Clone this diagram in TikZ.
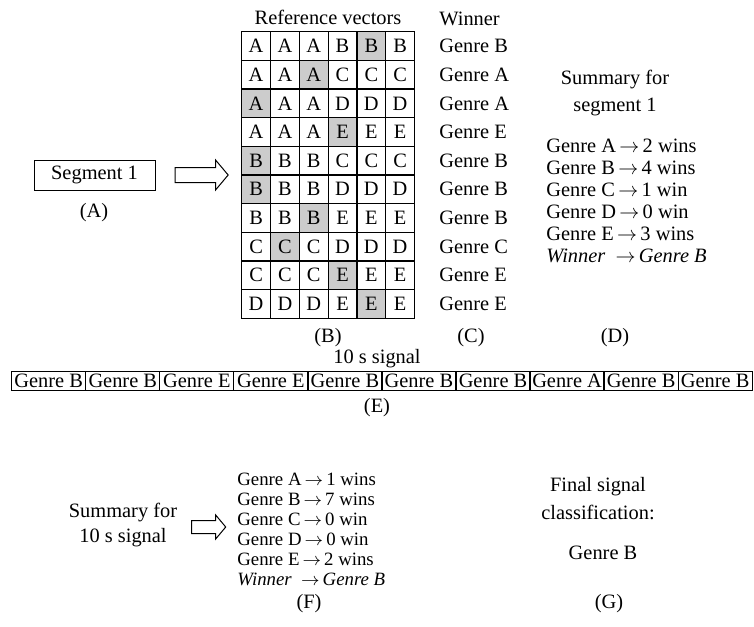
\documentclass[tikz,border=0pt]{standalone}
\usepackage{fontspec}
\setmainfont{Liberation Serif}
\usetikzlibrary{shapes.arrows}

\begin{document}
\begin{tikzpicture}[x=0.5pt, y=-0.5pt,
    every node/.style={font=\fontsize{10.2}{12}\selectfont, inner sep=0pt},
    cell/.style={rectangle, draw, line width=0.6pt, minimum width=14.4pt, minimum height=14.33pt},
    slot/.style={rectangle, draw, line width=0.6pt, minimum width=37pt, minimum height=9.4pt},
    hollow/.style={single arrow, draw, line width=0.5pt, inner sep=3.5pt, single arrow tip angle=100},
    tag/.style={font=\fontsize{10.2}{12}\selectfont}]
    \useasboundingbox (0,0) rectangle (754,626);

    % Segment and first arrow
    \node [rectangle, draw, line width=0.5pt, minimum width=60.5pt, minimum height=15pt] (seg) at (94.5,175) {Segment 1};
    \node [tag] (taga) at (94,213) {(A)};
    \node [hollow, minimum height=26.5pt, minimum width=14.5pt, single arrow head extend=3.75pt] (arr1) at (198.5,175) {};

    % Reference vectors
    \node (refs) at (328,17) {Reference vectors};
    \foreach \row/\letters/\hit in {1/{A,A,A,B,B,B}/5, 2/{A,A,A,C,C,C}/3, 3/{A,A,A,D,D,D}/1,
        4/{A,A,A,E,E,E}/4, 5/{B,B,B,C,C,C}/1, 6/{B,B,B,D,D,D}/1, 7/{B,B,B,E,E,E}/3,
        8/{C,C,C,D,D,D}/2, 9/{C,C,C,E,E,E}/4, 10/{D,D,D,E,E,E}/5}{
      \foreach \ltr [count=\col] in \letters {
        \ifnum\col=\hit \def\cellfill{gray!40}\else\def\cellfill{white}\fi
        \node [cell, fill=\cellfill] (v\row-\col) at ({241.7+28.8*(\col-0.5)}, {31.7+28.66*(\row-0.5)}) {\ltr};
      }
    }
    \node [tag] (tagb) at (328,338) {(B)};

    % Winners
    \node [anchor=west] (winhead) at (439,19) {Winner};
    \foreach \g [count=\i] in {B,A,A,E,B,B,B,C,E,E}
      \node [anchor=west] (win\i) at (439, {31.7+28.66*(\i-0.5)}) {Genre \g};
    \node [tag] (tagc) at (471,338) {(C)};

    % Summary for segment 1
    \node [align=center, font=\fontsize{10.2}{13.5}\selectfont] (sumseg) at (615,93) {Summary for\\segment 1};
    \node [align=left, anchor=west, font=\fontsize{10.2}{11}\selectfont] (votes) at (546,201)
      {Genre A$\,\rightarrow\,$2 wins\\ Genre B$\,\rightarrow\,$4 wins\\ Genre C$\,\rightarrow\,$1 win\\
       Genre D$\,\rightarrow\,$0 win\\ Genre E$\,\rightarrow\,$3 wins\\ \textit{Winner}\ \ $\rightarrow\,$\textit{Genre B}};
    \node [tag] (tagd) at (615,338) {(D)};

    % 10 s signal
    \node (sigtitle) at (377,359) {10 s signal};
    \foreach \g [count=\i] in {B,B,E,E,B,B,B,A,B,B}
      \node [slot] (sig\i) at ({11.7+74.05*(\i-0.5)}, 381) {Genre \g};
    \node [tag] (tage) at (377,408) {(E)};

    % Summary for 10 s signal
    \node [align=center, font=\fontsize{10.2}{12.5}\selectfont] (sumsig) at (123,525) {Summary for\\10 s signal};
    \node [hollow, inner sep=3pt, minimum height=17pt, minimum width=11.5pt, single arrow head extend=2.75pt] (arr2) at (206,527) {};
    \node [align=left, anchor=west, font=\fontsize{9.4}{10}\selectfont] (total) at (237,529)
      {Genre A$\,\rightarrow\,$1 wins\\ Genre B$\,\rightarrow\,$7 wins\\ Genre C$\,\rightarrow\,$0 win\\
       Genre D$\,\rightarrow\,$0 win\\ Genre E$\,\rightarrow\,$2 wins\\ \textit{Winner}\ \ $\rightarrow\,$\textit{Genre B}};
    \node [tag] (tagf) at (309,604) {(F)};

    % Final classification
    \node [align=center, font=\fontsize{10.2}{14}\selectfont] (final) at (598,499) {Final signal\\classification:};
    \node (result) at (603,553) {Genre B};
    \node [tag] (tagg) at (609,604) {(G)};
\end{tikzpicture}
\end{document}
